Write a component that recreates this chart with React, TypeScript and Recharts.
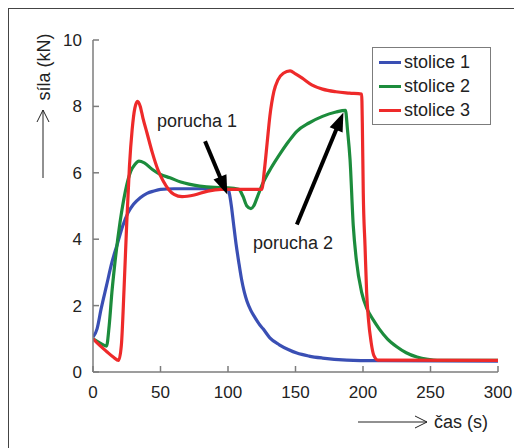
import React from 'react';
import {
  LineChart,
  Line,
  XAxis,
  YAxis,
  Legend,
  ReferenceLine,
  ReferenceDot,
} from 'recharts';

// time (s) and force (kN)
const s1Time = [0, 3, 6, 10, 14, 18, 22, 26, 30, 35, 40, 45, 50, 60, 100, 101, 102.5, 104, 106, 108, 110, 112, 114, 117, 120, 123, 126, 131, 138, 145, 151, 160, 170, 188, 210, 300];
const s1Force = [1.05, 1.3, 1.9, 2.6, 3.3, 3.85, 4.4, 4.8, 5.05, 5.25, 5.38, 5.45, 5.5, 5.52, 5.52, 5.38, 5.0, 4.5, 3.85, 3.3, 2.8, 2.42, 2.14, 1.85, 1.64, 1.45, 1.3, 1.03, 0.82, 0.67, 0.57, 0.48, 0.42, 0.36, 0.34, 0.33];

const s2Time = [0, 5, 10, 12, 14, 16, 20, 24, 28, 31, 34, 38, 44, 50, 57, 65, 79, 90, 100, 108, 111, 114, 117, 119, 122, 126, 132, 139, 145, 151, 160, 170, 180, 187, 188.5, 190.4, 192.8, 195, 199, 203, 207.6, 212, 218, 225, 232, 240, 248, 255, 300];
const s2Force = [1.0, 0.88, 0.78, 1.4, 2.4, 3.2, 4.5, 5.45, 6.05, 6.25, 6.35, 6.3, 6.1, 5.95, 5.85, 5.72, 5.6, 5.56, 5.55, 5.5, 5.3, 5.0, 4.92, 5.0, 5.3, 5.7, 6.15, 6.6, 6.95, 7.25, 7.5, 7.7, 7.83, 7.88, 7.3, 6.4, 4.4, 3.4, 2.4, 1.9, 1.57, 1.3, 1.0, 0.76, 0.58, 0.45, 0.38, 0.35, 0.35];

const s3Time = [0, 5, 10, 15, 19, 21, 23, 25, 27, 29, 31, 33, 35, 37, 40, 44, 48, 52, 56, 60, 66, 75, 85, 95, 125, 127, 129, 131, 134, 137, 141, 146, 150, 155, 162, 170, 180, 190, 199, 199.5, 200.2, 201.5, 202.7, 204, 206, 208, 211, 300];
const s3Force = [1.0, 0.8, 0.62, 0.45, 0.35, 0.8, 2.5, 4.5, 6.2, 7.3, 7.95, 8.15, 8.0, 7.65, 7.2, 6.6, 6.1, 5.75, 5.5, 5.35, 5.28, 5.33, 5.45, 5.5, 5.5, 6.1, 6.9, 7.7, 8.45, 8.8, 9.0, 9.07, 8.98, 8.85, 8.65, 8.52, 8.44, 8.4, 8.37, 7.5, 5.4, 3.8, 2.4, 1.6, 0.9, 0.5, 0.36, 0.35];

const xTicks = [0, 50, 100, 150, 200, 250, 300];
const yTicks = [0, 2, 4, 6, 8, 10];

const seriesNames = ['stolice 1', 'stolice 2', 'stolice 3'];
const seriesColors = ['#3a4fb4', '#1c8c3c', '#ee2a2a'];

// annotation: label position and arrow tail -> tip, in data units
const fault1 = { text: 'porucha 1', x: 47.4, y: 7.37, tail: { x: 83, y: 6.95 }, tip: { x: 99.5, y: 5.35 } };
const fault2 = { text: 'porucha 2', x: 118.5, y: 3.69, tail: { x: 151, y: 4.44 }, tip: { x: 185.5, y: 7.82 } };

const toPoints = (t: number[], f: number[]) => t.map((time, i) => ({ time, force: f[i] }));
const series = [toPoints(s1Time, s1Force), toPoints(s2Time, s2Force), toPoints(s3Time, s3Force)];

const FONT = '"Liberation Sans", Arial, sans-serif';
const FRAME = '#7c7c7c';

function Arrow(props: any) {
  const { x1, y1, x2, y2 } = props;
  const dx = x2 - x1;
  const dy = y2 - y1;
  const len = Math.sqrt(dx * dx + dy * dy);
  const ux = dx / len;
  const uy = dy / len;
  const headLen = 19;
  const headW = 7;
  const bx = x2 - ux * headLen;
  const by = y2 - uy * headLen;
  const pts = [
    `${x2},${y2}`,
    `${bx - uy * headW},${by + ux * headW}`,
    `${bx + uy * headW},${by - ux * headW}`,
  ].join(' ');
  return (
    <g>
      <line x1={x1} y1={y1} x2={bx + ux * 2} y2={by + uy * 2} stroke="#000" strokeWidth={4} />
      <polygon points={pts} fill="#000" />
    </g>
  );
}

function Note(text: string) {
  return (props: any) => (
    <text x={props.cx} y={props.cy} fontSize={18} fontFamily={FONT} fill="#222">
      {text}
    </text>
  );
}

function LegendBox() {
  return (
    <div
      style={{
        width: 119,
        height: 78,
        border: '1.5px solid #7c7c7c',
        background: '#fff',
        fontFamily: FONT,
        fontSize: 18,
        color: '#222',
        boxSizing: 'border-box',
        paddingTop: 2,
      }}
    >
      {seriesNames.map((name, i) => (
        <div key={name} style={{ display: 'flex', alignItems: 'center', height: 24, lineHeight: '24px' }}>
          <span style={{ display: 'inline-block', width: 22, height: 3, marginLeft: 6, marginRight: 3, background: seriesColors[i] }} />
          <span>{name}</span>
        </div>
      ))}
    </div>
  );
}

function YLabel(props: any) {
  const { x, y } = props.viewBox;
  const cx = x - 9;
  return (
    <g>
      <text
        x={cx}
        y={y + 27}
        transform={`rotate(-90 ${cx} ${y + 27})`}
        textAnchor="middle"
        dominantBaseline="central"
        fontSize={18}
        fontFamily={FONT}
        fill="#222"
      >
        síla (kN)
      </text>
      <line x1={cx - 1} y1={y + 138} x2={cx - 1} y2={y + 70} stroke="#222" strokeWidth={1} />
      <polyline points={`${cx - 7},${y + 82} ${cx - 1},${y + 70} ${cx + 5},${y + 82}`} fill="none" stroke="#222" strokeWidth={1} />
    </g>
  );
}

function XLabel(props: any) {
  const { x, y, width } = props.viewBox;
  const ay = y + 50;
  const right = x + width;
  return (
    <g>
      <line x1={right - 140} y1={ay} x2={right - 71} y2={ay} stroke="#222" strokeWidth={1} />
      <polyline points={`${right - 83},${ay - 6} ${right - 71},${ay} ${right - 83},${ay + 6}`} fill="none" stroke="#222" strokeWidth={1} />
      <text x={right - 64} y={ay} dominantBaseline="central" fontSize={18} fontFamily={FONT} fill="#222">
        čas (s)
      </text>
    </g>
  );
}

export default function App() {
  const tickStyle = { fontSize: 17, fill: '#222', fontFamily: FONT };
  return (
    <div
      style={{
        width: 514,
        height: 440,
        borderTop: '1px solid #444',
        borderLeft: '1px solid #444',
        boxSizing: 'border-box',
        background: '#fff',
      }}
    >
      <LineChart width={504} height={430} margin={{ top: 31, right: 15, left: 44, bottom: 37 }}>
        <XAxis
          xAxisId="bottom"
          dataKey="time"
          type="number"
          domain={[0, 300]}
          ticks={xTicks}
          allowDataOverflow
          height={30}
          tick={tickStyle}
          tickSize={-6}
          tickMargin={20}
          axisLine={{ stroke: FRAME, strokeWidth: 1.5 }}
          tickLine={{ stroke: FRAME, strokeWidth: 1.5 }}
          label={<XLabel />}
        />
        <XAxis
          xAxisId="top"
          orientation="top"
          dataKey="time"
          type="number"
          domain={[0, 300]}
          ticks={xTicks}
          height={0}
          tickFormatter={() => ''}
          tickSize={-6}
          axisLine={{ stroke: FRAME, strokeWidth: 1.5 }}
          tickLine={{ stroke: FRAME, strokeWidth: 1.5 }}
        />
        <YAxis
          yAxisId="left"
          type="number"
          domain={[0, 10]}
          ticks={yTicks}
          allowDataOverflow
          width={40}
          tick={tickStyle}
          tickSize={-6}
          tickMargin={17}
          axisLine={{ stroke: FRAME, strokeWidth: 1.5 }}
          tickLine={{ stroke: FRAME, strokeWidth: 1.5 }}
          label={<YLabel />}
        />
        <YAxis
          yAxisId="right"
          orientation="right"
          type="number"
          domain={[0, 10]}
          ticks={yTicks}
          width={0}
          tickFormatter={() => ''}
          tickSize={-6}
          axisLine={{ stroke: FRAME, strokeWidth: 1.5 }}
          tickLine={{ stroke: FRAME, strokeWidth: 1.5 }}
        />
        {series.map((data, i) => (
          <Line
            key={seriesNames[i]}
            xAxisId="bottom"
            yAxisId="left"
            data={data}
            dataKey="force"
            name={seriesNames[i]}
            type="monotone"
            stroke={seriesColors[i]}
            strokeWidth={3.2}
            dot={false}
            activeDot={false}
            isAnimationActive={false}
          />
        ))}
        {[fault1, fault2].map((f) => (
          <ReferenceLine
            key={f.text + '-arrow'}
            xAxisId="bottom"
            yAxisId="left"
            segment={[f.tail, f.tip]}
            shape={Arrow}
          />
        ))}
        {[fault1, fault2].map((f) => (
          <ReferenceDot
            key={f.text}
            xAxisId="bottom"
            yAxisId="left"
            x={f.x}
            y={f.y}
            r={0}
            shape={Note(f.text)}
          />
        ))}
        <Legend
          layout="vertical"
          align="center"
          verticalAlign="middle"
          content={<LegendBox />}
          wrapperStyle={{ left: 363, top: 38, width: 119, height: 78 }}
        />
      </LineChart>
    </div>
  );
}
